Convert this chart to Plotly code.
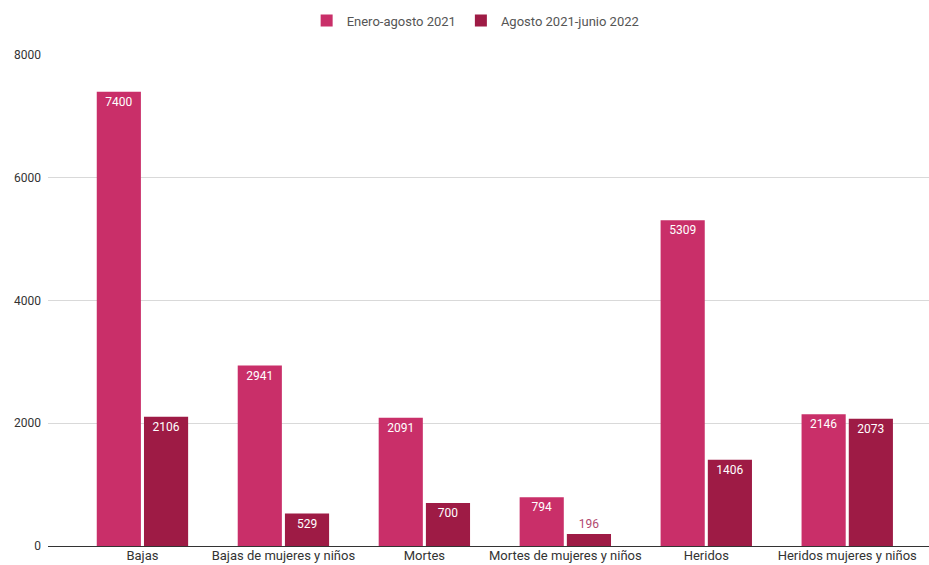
import plotly.graph_objects as go

categorias = ["Bajas", "Bajas de mujeres y niños", "Mortes", "Mortes de mujeres y niños",
              "Heridos", "Heridos mujeres y niños"]
serie_2021 = [7400, 2941, 2091, 794, 5309, 2146]
serie_2022 = [2106, 529, 700, 196, 1406, 2073]
nombre_2021 = "Enero-agosto 2021"
nombre_2022 = "Agosto 2021-junio 2022"
y_ticks = [0, 2000, 4000, 6000, 8000]

color_2021 = "#c92f69"
color_2022 = "#9e1b45"
FONT = "Roboto, Arial, sans-serif"


def posiciones(vals):
    # small bars cannot hold the label inside
    return ["outside" if v < 400 else "inside" for v in vals]


x_idx = list(range(len(categorias)))

fig = go.Figure()
for nombre, vals, col in [(nombre_2021, serie_2021, color_2021), (nombre_2022, serie_2022, color_2022)]:
    fig.add_trace(go.Bar(
        x=x_idx, y=vals, name=nombre, marker_color=col, marker_line_width=0,
        text=[str(v) for v in vals], textposition=posiciones(vals),
        insidetextanchor="end",
        insidetextfont=dict(color="white", size=12, family=FONT),
        outsidetextfont=dict(color="#b24a70", size=12, family=FONT),
        cliponaxis=False,
    ))

fig.update_layout(
    width=929, height=565,
    margin=dict(l=48, r=0, t=55, b=19),
    paper_bgcolor="white", plot_bgcolor="white",
    barmode="group", bargap=0.33, bargroupgap=0.065,
    font=dict(family=FONT, size=12, color="#444444"),
    legend=dict(orientation="h", x=0.512, xanchor="center", xref="container",
                y=0.99, yanchor="top", yref="container",
                font=dict(size=13, color="#555555"),
                itemwidth=30, traceorder="normal"),
    showlegend=True,
)
fig.update_xaxes(
    range=[-0.67, 5.58], tickvals=x_idx, ticktext=categorias,
    showgrid=False, showline=False, zeroline=False, ticks="",
    tickfont=dict(size=13, color="#333333"), automargin=False,
)
fig.update_yaxes(
    range=[0, 8000], tickvals=y_ticks, ticktext=[str(t) for t in y_ticks],
    showgrid=True, gridcolor="#d9d9d9", gridwidth=1,
    zeroline=True, zerolinecolor="#333333", zerolinewidth=1,
    tickfont=dict(size=12, color="#333333"), ticks="", ticklabelstandoff=6,
    automargin=False,
)

fig.write_html("out.html")
